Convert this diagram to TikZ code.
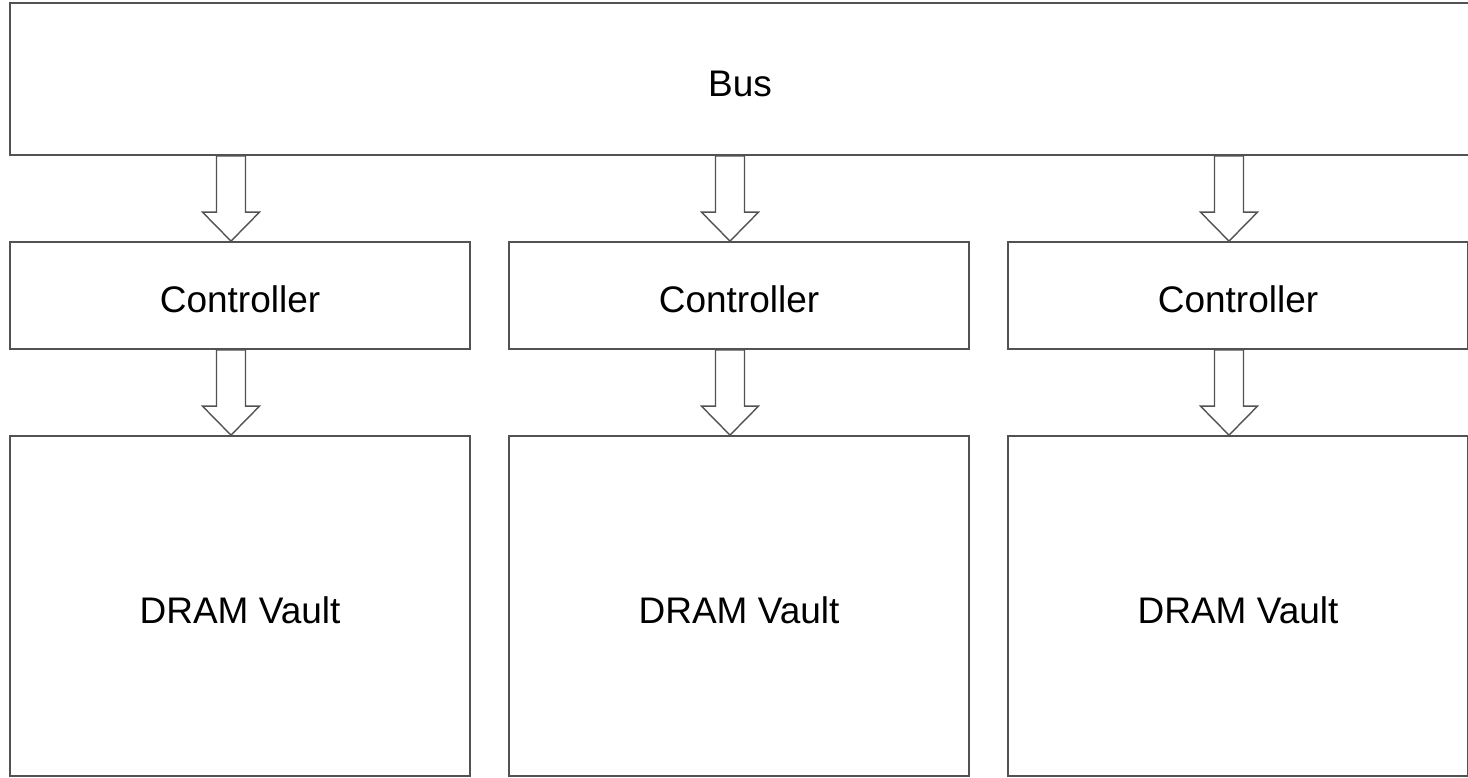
\documentclass[tikz,border=0pt]{standalone}
\usepackage{fontspec}
\setmainfont{Liberation Sans}
\usetikzlibrary{calc}

\tikzset{
  box/.style={draw=black!68, line width=1.7pt, rectangle, inner sep=0pt, minimum width=460pt,
    text height=34.5pt, text depth=0pt},
  hollow/.style={draw=black!68, line width=1.4pt, fill=white, line join=miter}
}
% hollow down arrow: top point #1, tip #2
\newcommand{\downblock}[2]{%
\draw[hollow] let \p1=(#1), \p2=(#2) in
  (\x1-14.5pt,\y1) -- (\x1+14.5pt,\y1) -- (\x1+14.5pt,\y2+29pt) -- (\x1+28.5pt,\y2+29pt)
  -- (\x1,\y2) -- (\x1-28.5pt,\y2+29pt) -- (\x1-14.5pt,\y2+29pt) -- cycle;}

\begin{document}
\begin{tikzpicture}[x=1pt, y=1pt, font=\fontsize{37}{44}\selectfont]
\useasboundingbox (0,0) rectangle (1468,777);
\node[box, minimum width=1460pt, minimum height=152pt] (bus) at (740,698) {Bus};

\node[box, minimum height=107pt] (ctrlA) at (240,481.5) {Controller};
\node[box, minimum height=107pt] (ctrlB) at (739,481.5) {Controller};
\node[box, minimum height=107pt] (ctrlC) at (1238,481.5) {Controller};

\node[box, minimum height=340pt] (vaultA) at (240,171) {DRAM Vault};
\node[box, minimum height=340pt] (vaultB) at (739,171) {DRAM Vault};
\node[box, minimum height=340pt] (vaultC) at (1238,171) {DRAM Vault};

% arrows sit a bit left of the box centres
\coordinate (colA) at ($(ctrlA.north)+(-9,0)$);
\coordinate (colB) at ($(ctrlB.north)+(-9,0)$);
\coordinate (colC) at ($(ctrlC.north)+(-9,0)$);

\downblock{bus.south -| colA}{colA}
\downblock{bus.south -| colB}{colB}
\downblock{bus.south -| colC}{colC}
\downblock{ctrlA.south -| colA}{vaultA.north -| colA}
\downblock{ctrlB.south -| colB}{vaultB.north -| colB}
\downblock{ctrlC.south -| colC}{vaultC.north -| colC}
\end{tikzpicture}
\end{document}
